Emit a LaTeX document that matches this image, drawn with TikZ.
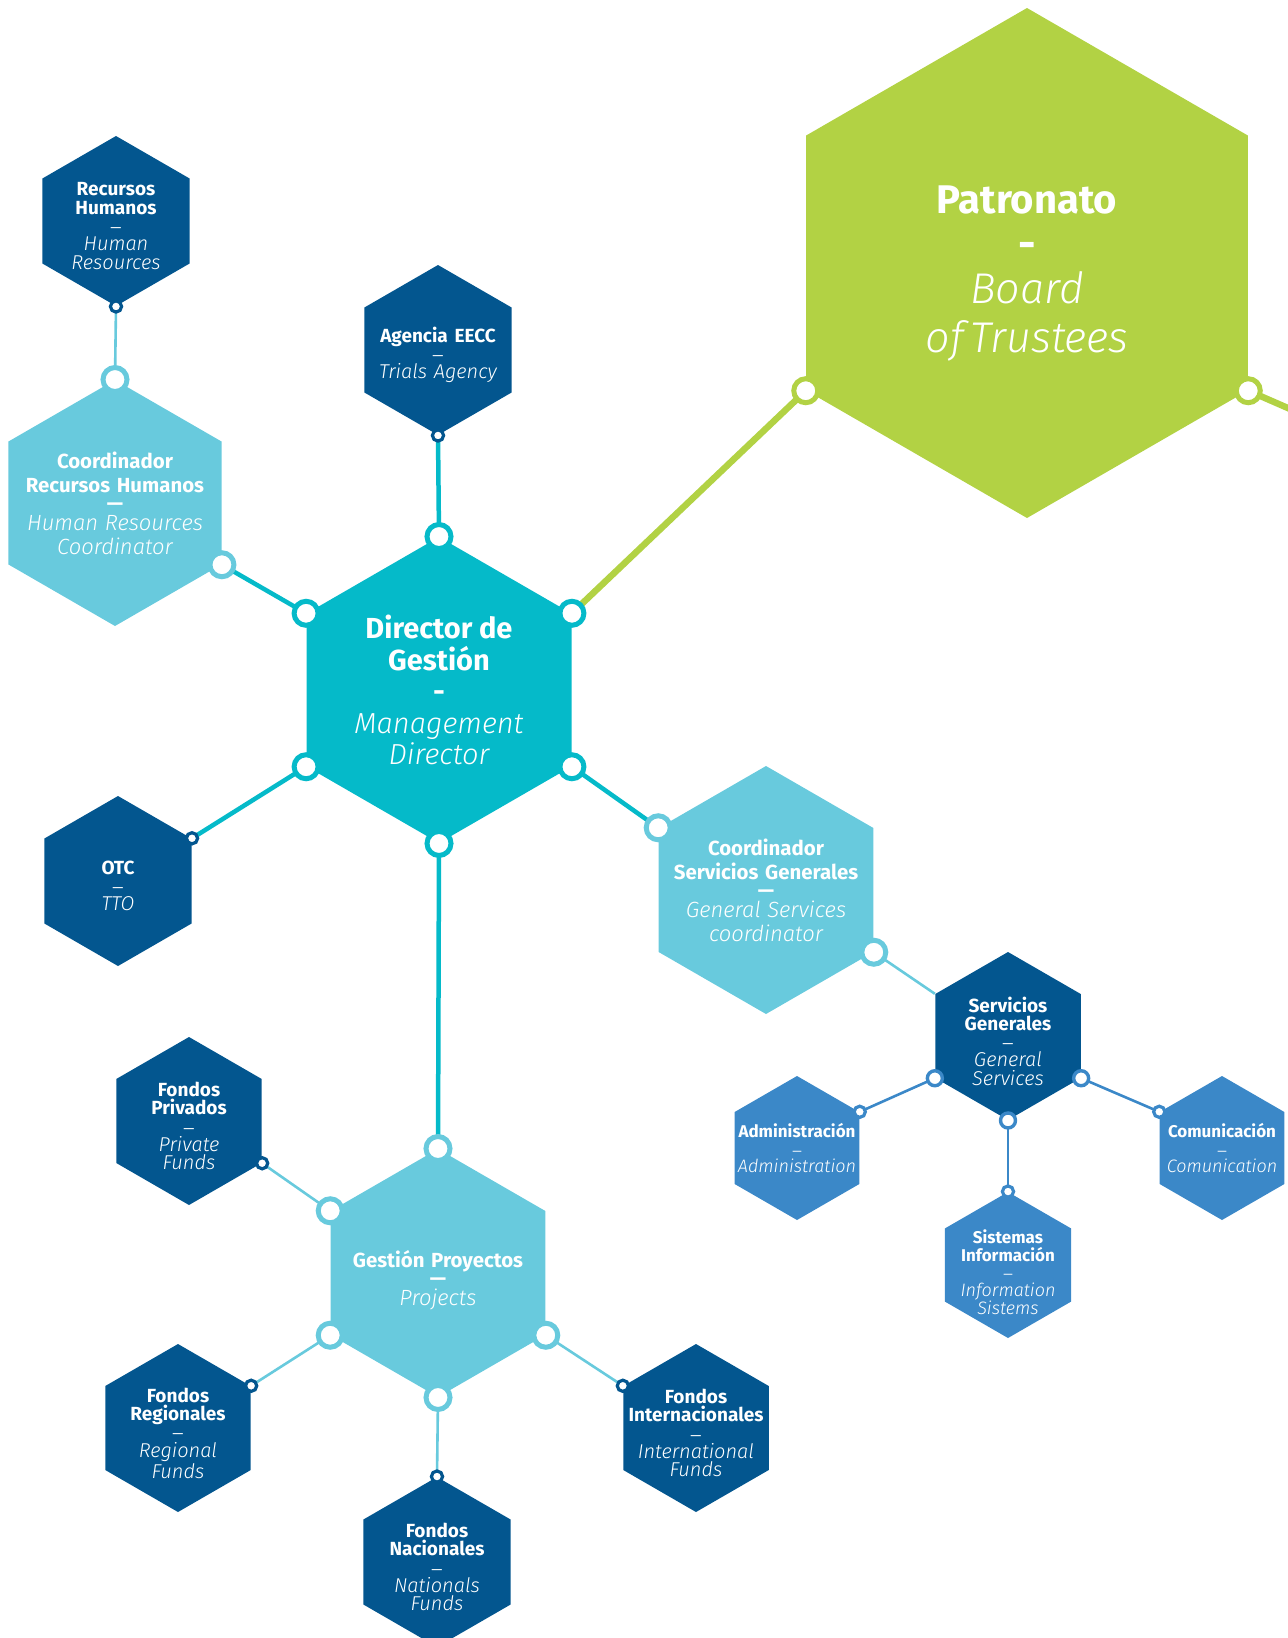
\documentclass[tikz,border=0pt]{standalone}
\usepackage{fontspec}
\setmainfont{Fira Sans}[ItalicFont={Fira Sans Light Italic}]
\usetikzlibrary{shapes.geometric}

\definecolor{patgreen}{HTML}{B2D244}
\definecolor{dirteal}{HTML}{05BAC9}
\definecolor{coordblue}{HTML}{68CADD}
\definecolor{unitblue}{HTML}{03568F}
\definecolor{areablue}{HTML}{3B88C8}

\tikzset{
  hex/.style={regular polygon, regular polygon sides=6, shape border rotate=30, fill=#1, draw=none, inner sep=0pt},
  lbl/.style={text=white, align=center, text width=130pt, inner sep=0pt},
  unitlbl/.style={lbl, yshift=-2.5pt},
  bigdot/.style={circle, fill=white, draw=#1, line width=2.5pt, minimum size=12pt, inner sep=0pt},
  middot/.style={circle, fill=white, draw=#1, line width=1.7pt, minimum size=7.5pt, inner sep=0pt},
  smalldot/.style={circle, fill=white, draw=#1, line width=1.6pt, minimum size=5.6pt, inner sep=0pt},
  thickline/.style={draw=#1, line width=2.25pt},
  thinline/.style={draw=#1, line width=1.3pt}
}

\newcommand{\unittxt}[2]{\fontsize{9.5}{9.15}\selectfont{\bfseries #1}\\{\fontsize{7}{9.15}\selectfont ---}\\{\fontsize{10}{9.15}\selectfont\itshape #2}\par}
\newcommand{\areatxt}[2]{\fontsize{8.5}{8.8}\selectfont{\bfseries #1}\\{\fontsize{6}{8.8}\selectfont ---}\\{\fontsize{9}{8.8}\selectfont\itshape #2}\par}
\newcommand{\coordtxt}[2]{\fontsize{10.2}{12}\selectfont{\bfseries #1}\\[-3pt]{\bfseries ---}\\[-2pt]{\fontsize{11}{12}\selectfont\itshape #2}\par}

\begin{document}
\begin{tikzpicture}[x=0.5pt, y=-0.5pt]

\useasboundingbox (0,0) rectangle (1287,1638);

% hexagons
\node [hex=patgreen, minimum size=255pt] (pat) at (1027,263) {};
\node [hex=dirteal, minimum size=153pt] (dir) at (439,690) {};
\node [hex=unitblue, minimum size=85pt] (rh) at (116,221) {};
\node [hex=coordblue, minimum size=123pt] (crh) at (115,503) {};
\node [hex=unitblue, minimum size=85pt] (age) at (438,350) {};
\node [hex=unitblue, minimum size=85pt] (otc) at (118,881) {};
\node [hex=coordblue, minimum size=124pt] (csg) at (766,890) {};
\node [hex=unitblue, minimum size=84pt] (sg) at (1008,1036) {};
\node [hex=areablue, minimum size=72pt] (adm) at (797,1148) {};
\node [hex=areablue, minimum size=72pt] (com) at (1222,1148) {};
\node [hex=areablue, minimum size=73pt] (sis) at (1008,1265) {};
\node [hex=coordblue, minimum size=124pt] (gp) at (438,1273) {};
\node [hex=unitblue, minimum size=84pt] (fpr) at (189,1121) {};
\node [hex=unitblue, minimum size=84pt] (fre) at (178,1428) {};
\node [hex=unitblue, minimum size=85pt] (fna) at (437,1562) {};
\node [hex=unitblue, minimum size=84pt] (fin) at (696,1428) {};

% connectors
\coordinate (pat-out) at (1297,412);
\draw [thickline=patgreen, line width=3.25pt] (dir.30) -- (pat.210);
\draw [thickline=patgreen, line width=3.25pt] (pat.330) -- (pat-out);
\draw [thickline=dirteal] (dir.90) -- (age.270);
\draw [thickline=dirteal] (dir.150) -- (crh.330);
\draw [thickline=dirteal] (dir.210) -- (otc.30);
\draw [thickline=dirteal] (dir.330) -- (csg.150);
\draw [thickline=dirteal] (dir.270) -- (gp.90);
\draw [thinline=coordblue] (crh.90) -- (rh.270);
\draw [thinline=coordblue] (csg.330) -- (sg.150);
\draw [thinline=areablue] (sg.210) -- (adm.30);
\draw [thinline=areablue] (sg.330) -- (com.150);
\draw [thinline=areablue] (sg.270) -- (sis.90);
\draw [thinline=coordblue] (gp.150) -- (fpr.330);
\draw [thinline=coordblue] (gp.210) -- (fre.30);
\draw [thinline=coordblue] (gp.270) -- (fna.90);
\draw [thinline=coordblue] (gp.330) -- (fin.150);

% dots
\node [bigdot=patgreen] (pat-d1) at (pat.210) {};
\node [bigdot=patgreen] (pat-d2) at (pat.330) {};
\foreach \a in {30,90,150,210,270,330}
  \node [bigdot=dirteal] (dir-d\a) at (dir.\a) {};
\node [bigdot=coordblue] (crh-d1) at (crh.90) {};
\node [bigdot=coordblue] (crh-d2) at (crh.330) {};
\node [bigdot=coordblue] (csg-d1) at (csg.150) {};
\node [bigdot=coordblue] (csg-d2) at (csg.330) {};
\foreach \a in {90,150,210,270,330}
  \node [bigdot=coordblue] (gp-d\a) at (gp.\a) {};
\foreach \a in {210,270,330}
  \node [middot=areablue] (sg-d\a) at (sg.\a) {};
\node [smalldot=unitblue] (rh-d) at (rh.270) {};
\node [smalldot=unitblue] (age-d) at (age.270) {};
\node [smalldot=unitblue] (otc-d) at (otc.30) {};
\node [smalldot=areablue] (adm-d) at (adm.30) {};
\node [smalldot=areablue] (com-d) at (com.150) {};
\node [smalldot=areablue] (sis-d) at (sis.90) {};
\node [smalldot=unitblue] (fpr-d) at (fpr.330) {};
\node [smalldot=unitblue] (fre-d) at (fre.30) {};
\node [smalldot=unitblue] (fna-d) at (fna.90) {};
\node [smalldot=unitblue] (fin-d) at (fin.150) {};

% texts
\node [lbl] (pat-t) at (1027,274) {\fontsize{21.5}{24.5}\selectfont{\fontsize{20}{24.5}\selectfont\bfseries Patronato}\\[-2pt]{\bfseries -}\\[-2pt]{\itshape Board}\\{\itshape of Trustees}\par};
\node [lbl] (dir-t) at (dir) {\fontsize{14.5}{15.75}\selectfont{\bfseries Director de}\\{\bfseries Gestión}\\{\bfseries -}\\{\itshape Management}\\{\itshape Director}\par};
\node [unitlbl] (rh-t) at (rh) {\unittxt{Recursos\\Humanos}{Human\\Resources}};
\node [lbl] (crh-t) at (crh) {\coordtxt{Coordinador\\Recursos Humanos}{Human Resources\\Coordinator}};
\node [unitlbl] (age-t) at (age) {\unittxt{Agencia EECC}{Trials Agency}};
\node [unitlbl] (otc-t) at (otc) {\unittxt{OTC}{TTO}};
\node [lbl] (csg-t) at (csg) {\coordtxt{Coordinador\\Servicios Generales}{General Services\\coordinator}};
\node [unitlbl] (sg-t) at (sg) {\unittxt{Servicios\\Generales}{General\\Services}};
\node [lbl] (adm-t) at (adm) {\areatxt{Administración}{Administration}};
\node [lbl] (com-t) at (com) {\areatxt{Comunicación}{Comunication}};
\node [lbl] (sis-t) at (1008,1272) {\areatxt{Sistemas\\Información}{Information\\Sistems}};
\node [lbl] (gp-t) at (438,1280) {\coordtxt{Gestión Proyectos}{Projects}};
\node [unitlbl] (fpr-t) at (fpr) {\unittxt{Fondos\\Privados}{Private\\Funds}};
\node [unitlbl] (fre-t) at (fre) {\unittxt{Fondos\\Regionales}{Regional\\Funds}};
\node [unitlbl] (fna-t) at (fna) {\unittxt{Fondos\\Nacionales}{Nationals\\Funds}};
\node [unitlbl] (fin-t) at (fin) {\unittxt{Fondos\\Internacionales}{International\\Funds}};

\end{tikzpicture}
\end{document}
